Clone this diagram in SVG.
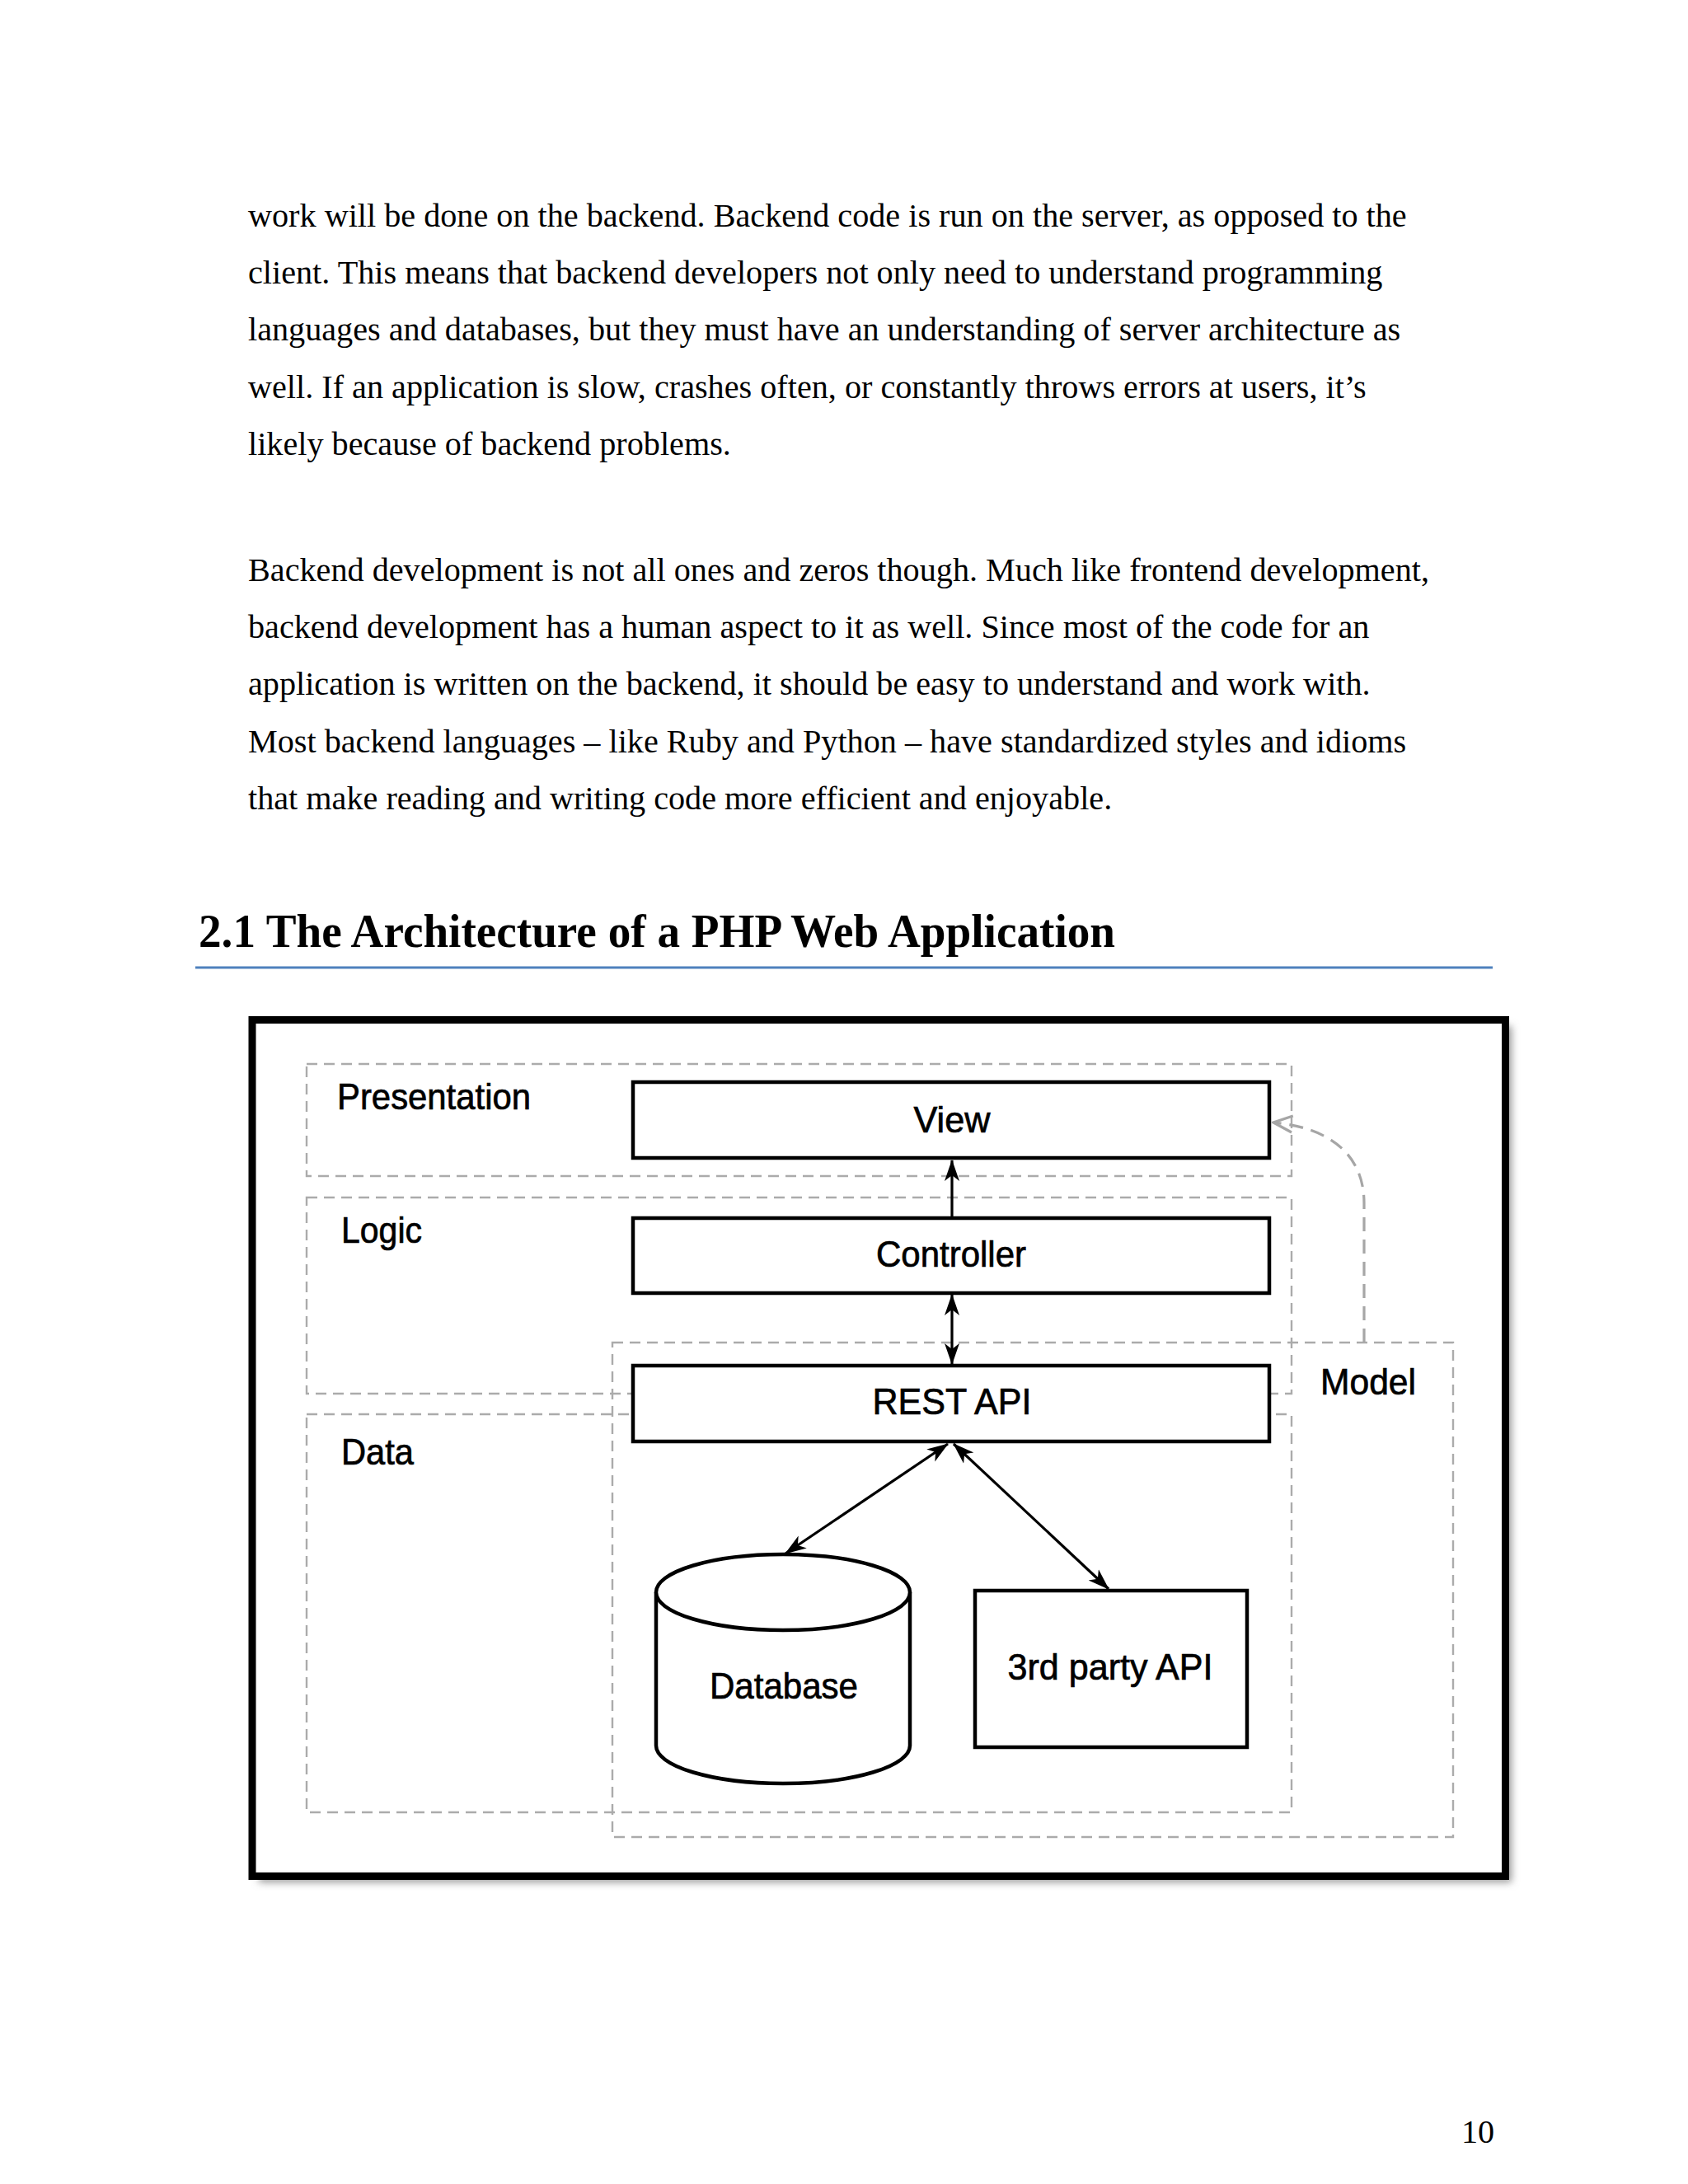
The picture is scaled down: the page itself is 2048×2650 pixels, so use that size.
<svg xmlns="http://www.w3.org/2000/svg" width="2048" height="2650" viewBox="0 0 2048 2650">
  <style>
    .body { font-family: "Liberation Serif", "Times New Roman", serif; font-size: 40.2px; fill: #000; }
    .head { font-family: "Liberation Serif", "Times New Roman", serif; font-size: 56px; font-weight: bold; fill: #000; }
    .lbl { font-family: "Liberation Sans", Arial, sans-serif; font-size: 44px; fill: #000; stroke: #000; stroke-width: 0.7; }
    .mid { text-anchor: middle; }
    .tier { fill: none; stroke: #ababab; stroke-width: 2.4; stroke-dasharray: 13 8; }
    .node { fill: #fff; stroke: #000; stroke-width: 4.5; }
    .conn { fill: none; stroke: #000; stroke-width: 3.2; }
    .dconn { fill: none; stroke: #a6a6a6; stroke-width: 3.2; stroke-dasharray: 17 10; }
  </style>
  <defs>
    <marker id="ah" viewBox="0 0 26 20" refX="25" refY="10" markerWidth="26" markerHeight="20" markerUnits="userSpaceOnUse" orient="auto-start-reverse">
      <path d="M0,1 L26,10 L0,19 L7,10 Z" fill="#000"/>
    </marker>
    <marker id="ahg" viewBox="0 0 28 24" refX="26" refY="12" markerWidth="28" markerHeight="24" markerUnits="userSpaceOnUse" orient="auto">
      <path d="M3,2 L26,12 L3,22" fill="none" stroke="#a6a6a6" stroke-width="3.2"/>
    </marker>
    <filter id="shadow" x="-5%" y="-5%" width="110%" height="110%">
      <feGaussianBlur stdDeviation="5"/>
    </filter>
  </defs>
  <rect x="0" y="0" width="2048" height="2650" fill="#fff"/>

  <g id="body-text" class="body">
    <text x="301" y="275">work will be done on the backend. Backend code is run on the server, as opposed to the</text>
    <text x="301" y="344">client. This means that backend developers not only need to understand programming</text>
    <text x="301" y="413">languages and databases, but they must have an understanding of server architecture as</text>
    <text x="301" y="483">well. If an application is slow, crashes often, or constantly throws errors at users, it’s</text>
    <text x="301" y="552">likely because of backend problems.</text>
    <text x="301" y="705">Backend development is not all ones and zeros though. Much like frontend development,</text>
    <text x="301" y="774">backend development has a human aspect to it as well. Since most of the code for an</text>
    <text x="301" y="843">application is written on the backend, it should be easy to understand and work with.</text>
    <text x="301" y="913">Most backend languages – like Ruby and Python – have standardized styles and idioms</text>
    <text x="301" y="982">that make reading and writing code more efficient and enjoyable.</text>
  </g>

  <g id="heading">
    <text class="head" x="241" y="1149" textLength="1112" lengthAdjust="spacingAndGlyphs">2.1 The Architecture of a PHP Web Application</text>
    <line x1="237" y1="1174" x2="1811" y2="1174" stroke="#4f81bd" stroke-width="3.2"/>
  </g>

  <g id="frame">
    <rect x="314" y="1245" width="1520" height="1039" fill="#9a9a9a" filter="url(#shadow)"/>
    <rect x="306" y="1237.5" width="1520.5" height="1039" fill="#fff" stroke="#000" stroke-width="9"/>
  </g>

  <g id="tier-presentation">
    <rect class="tier" x="372" y="1291" width="1195" height="136"/>
    <text class="lbl" x="409" y="1346" textLength="235" lengthAdjust="spacingAndGlyphs">Presentation</text>
  </g>
  <g id="tier-logic">
    <rect class="tier" x="372" y="1453" width="1195" height="238"/>
    <text class="lbl" x="414" y="1508" textLength="98" lengthAdjust="spacingAndGlyphs">Logic</text>
  </g>
  <g id="tier-data">
    <rect class="tier" x="372" y="1716" width="1195" height="483"/>
    <text class="lbl" x="414" y="1777" textLength="88" lengthAdjust="spacingAndGlyphs">Data</text>
  </g>
  <g id="tier-model">
    <rect class="tier" x="743" y="1629" width="1020" height="600"/>
    <text class="lbl" x="1602" y="1692" textLength="116" lengthAdjust="spacingAndGlyphs">Model</text>
  </g>

  <g id="connectors">
    <line class="conn" x1="1155" y1="1478" x2="1155" y2="1408" marker-end="url(#ah)"/>
    <line class="conn" x1="1155" y1="1571" x2="1155" y2="1655" marker-start="url(#ah)" marker-end="url(#ah)"/>
    <line class="conn" x1="1150" y1="1752" x2="953" y2="1885" marker-start="url(#ah)" marker-end="url(#ah)"/>
    <line class="conn" x1="1157" y1="1752" x2="1345" y2="1928" marker-start="url(#ah)" marker-end="url(#ah)"/>
    <path class="dconn" d="M1655,1629 L1655,1460 C1655,1400 1612,1368 1545,1362" marker-end="url(#ahg)"/>
  </g>

  <g id="node-view">
    <rect class="node" x="768" y="1313" width="772" height="92"/>
    <text class="lbl mid" x="1155" y="1374" textLength="93" lengthAdjust="spacingAndGlyphs">View</text>
  </g>
  <g id="node-controller">
    <rect class="node" x="768" y="1478" width="772" height="91"/>
    <text class="lbl mid" x="1154" y="1537" textLength="182" lengthAdjust="spacingAndGlyphs">Controller</text>
  </g>
  <g id="node-rest">
    <rect class="node" x="768" y="1657" width="772" height="92"/>
    <text class="lbl mid" x="1155" y="1716" textLength="193" lengthAdjust="spacingAndGlyphs">REST API</text>
  </g>
  <g id="node-database">
    <path class="node" d="M796,1932 L796,2118 A154,46 0 0 0 1104,2118 L1104,1932"/>
    <ellipse class="node" cx="950" cy="1932" rx="154" ry="46"/>
    <text class="lbl mid" x="951" y="2061" textLength="180" lengthAdjust="spacingAndGlyphs">Database</text>
  </g>
  <g id="node-3rdparty">
    <rect class="node" x="1183" y="1930" width="330" height="190"/>
    <text class="lbl mid" x="1347" y="2038" textLength="249" lengthAdjust="spacingAndGlyphs">3rd party API</text>
  </g>

  <g id="page-number">
    <text class="body" x="1773" y="2600">10</text>
  </g>
</svg>
